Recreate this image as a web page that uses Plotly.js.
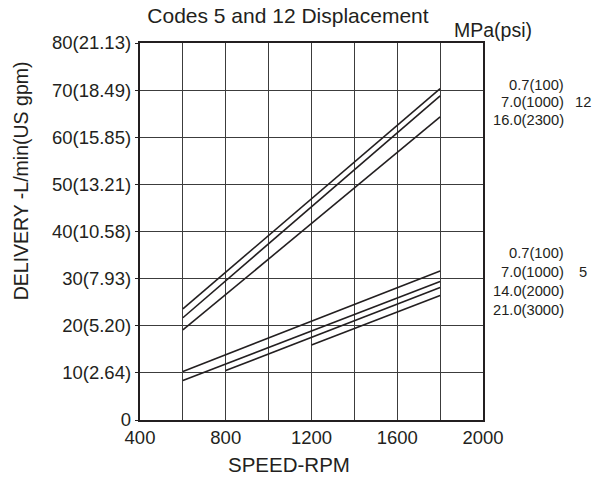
<!DOCTYPE html>
<html>
<head>
<meta charset="utf-8">
<script src="https://cdn.plot.ly/plotly-3.0.1.min.js"></script>
<style>html,body{margin:0;padding:0;background:#fff;}#chart{width:595px;height:479px;}</style>
</head>
<body>
<div id="chart"></div>
<script>
// Code 12 lines (speed RPM, delivery L/min)
const code12Speed = [[600, 1800], [600, 1800], [600, 1800]];
const code12Delivery = [[23.6, 70.3], [21.7, 68.8], [19.1, 64.3]];
const code12Labels = ["0.7(100)", "7.0(1000)", "16.0(2300)"];
// Code 5 lines
const code5Speed = [[600, 1800], [600, 1800], [800, 1800], [1200, 1800]];
const code5Delivery = [[10.3, 31.6], [8.4, 29.4], [10.5, 28.1], [15.9, 26.4]];
const code5Labels = ["0.7(100)", "7.0(1000)", "14.0(2000)", "21.0(3000)"];
// Axis ticks
const yTickVals = [0, 10, 20, 30, 40, 50, 60, 70, 80];
const yTickText = ["0", "10(2.64)", "20(5.20)", "30(7.93)", "40(10.58)", "50(13.21)", "60(15.85)", "70(18.49)", "80(21.13)"];
const xTickVals = [400, 800, 1200, 1600, 2000];

const ink = '#231f20';
const font = 'Liberation Sans, Arial, sans-serif';
const traces = [];
code12Speed.forEach((s, i) => traces.push({x: s, y: code12Delivery[i], mode: 'lines', type: 'scatter', line: {color: ink, width: 1.6}, hoverinfo: 'skip'}));
code5Speed.forEach((s, i) => traces.push({x: s, y: code5Delivery[i], mode: 'lines', type: 'scatter', line: {color: ink, width: 1.6}, hoverinfo: 'skip'}));

const annotations = [];
const small = {size: 14.7, color: ink, family: font};
const y12 = [71.1, 67.4, 63.6];
code12Labels.forEach((t, i) => annotations.push({xref: 'paper', yref: 'y', x: 1.242, y: y12[i], text: t, showarrow: false, xanchor: 'right', yanchor: 'middle', font: small}));
annotations.push({xref: 'paper', yref: 'y', x: 1.262, y: 67.4, text: '12', showarrow: false, xanchor: 'left', yanchor: 'middle', font: small});
const y5 = [35.4, 31.4, 27.4, 23.3];
code5Labels.forEach((t, i) => annotations.push({xref: 'paper', yref: 'y', x: 1.242, y: y5[i], text: t, showarrow: false, xanchor: 'right', yanchor: 'middle', font: small}));
annotations.push({xref: 'paper', yref: 'y', x: 1.275, y: 31.4, text: '5', showarrow: false, xanchor: 'left', yanchor: 'middle', font: small});
annotations.push({xref: 'paper', yref: 'paper', x: 0.91, y: 1.034, text: 'MPa(psi)', showarrow: false, xanchor: 'left', yanchor: 'middle', font: {size: 19.5, color: ink, family: font}});
annotations.push({xref: 'paper', yref: 'paper', x: -0.346, y: 0.634, text: 'DELIVERY -L/min(US gpm)', textangle: -90, showarrow: false, xanchor: 'center', yanchor: 'middle', font: {size: 19.5, color: ink, family: font}});
annotations.push({xref: 'paper', yref: 'paper', x: 0.434, y: -0.119, text: 'SPEED-RPM', showarrow: false, xanchor: 'center', yanchor: 'middle', font: {size: 20.5, color: ink, family: font}});

const layout = {
  width: 595, height: 479,
  margin: {l: 140, r: 112, t: 43, b: 59},
  paper_bgcolor: '#fff', plot_bgcolor: '#fff',
  showlegend: false,
  title: {text: 'Codes 5 and 12 Displacement', xref: 'container', x: 0.484, xanchor: 'center', yref: 'container', y: 0.968, yanchor: 'middle', font: {size: 21, color: ink, family: font}},
  xaxis: {range: [400, 2000], tickvals: xTickVals, ticktext: xTickVals.map(String), showgrid: true, gridcolor: '#3c3c3c', gridwidth: 1.2,
    minor: {dtick: 200, tick0: 400, showgrid: true, gridcolor: '#3c3c3c', gridwidth: 1.2},
    showline: true, linecolor: ink, linewidth: 2.2, mirror: true, zeroline: false, ticks: '', fixedrange: true,
    tickfont: {size: 18.5, color: ink, family: font}},
  yaxis: {range: [0, 80], tickvals: yTickVals, ticktext: yTickText, showgrid: true, gridcolor: '#3c3c3c', gridwidth: 1.2,
    showline: true, linecolor: ink, linewidth: 2.2, mirror: true, zeroline: false, ticks: 'outside', ticklen: 3, tickcolor: ink, fixedrange: true,
    tickfont: {size: 18.5, color: ink, family: font}},
  annotations: annotations
};
Plotly.newPlot('chart', traces, layout, {displayModeBar: false, staticPlot: true});
</script>
</body>
</html>
